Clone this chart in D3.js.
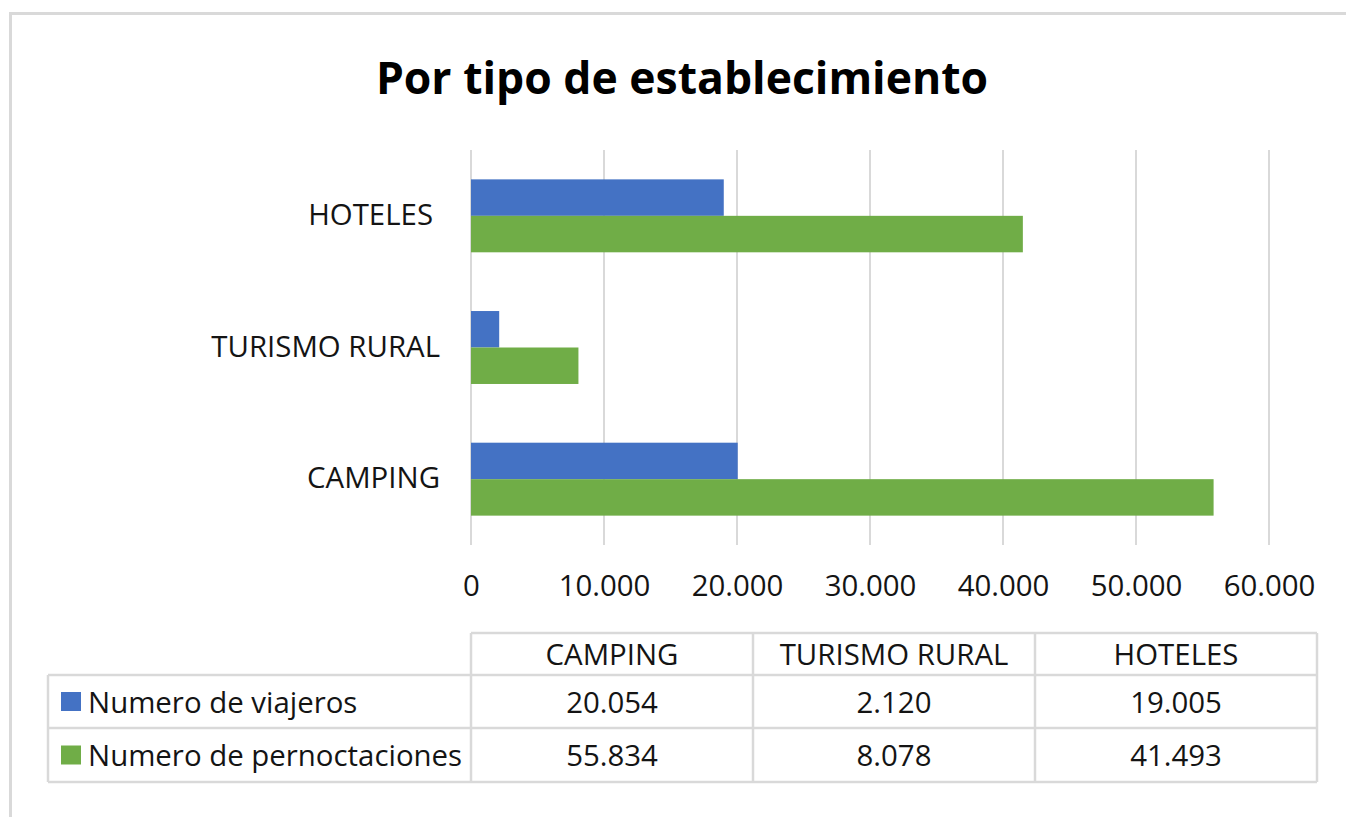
<!DOCTYPE html>
<html>
<head>
<meta charset="utf-8">
<script src="https://cdn.jsdelivr.net/npm/d3@7"></script>
<style>
  body { margin: 0; background: #fff; }
  text { font-family: "Open Sans", sans-serif; fill: #141414; }
</style>
</head>
<body>
<script>
// chart data
const categories = ["HOTELES", "TURISMO RURAL", "CAMPING"];
const tableOrder = ["CAMPING", "TURISMO RURAL", "HOTELES"];
const seriesNames = ["Numero de viajeros", "Numero de pernoctaciones"];
const viajeros = { "CAMPING": 20054, "TURISMO RURAL": 2120, "HOTELES": 19005 };
const pernoctaciones = { "CAMPING": 55834, "TURISMO RURAL": 8078, "HOTELES": 41493 };
const xTicks = [0, 10000, 20000, 30000, 40000, 50000, 60000];

const colors = ["#4472C4", "#70AD47"];
const gridColor = "#d9d9d9";
const seriesValues = [viajeros, pernoctaciones];
const fs = "29.4px";

const es = d3.formatLocale({ decimal: ",", thousands: ".", grouping: [3], currency: ["", "€"] });
const fmt = es.format(",d");

const W = 1346, H = 817;
const svg = d3.select("body").append("svg").attr("width", W).attr("height", H);

// outer chart border (cut off right and bottom)
svg.append("rect")
  .attr("x", 10.5).attr("y", 13.5)
  .attr("width", 1400).attr("height", 900)
  .attr("fill", "none").attr("stroke", gridColor).attr("stroke-width", 3);

// title
svg.append("text")
  .attr("x", 682).attr("y", 76)
  .attr("text-anchor", "middle").attr("dominant-baseline", "central")
  .style("font-weight", "bold").style("font-size", "44.5px").style("fill", "#000")
  .text("Por tipo de establecimiento");

const x = d3.scaleLinear().domain([0, 60000]).range([471, 1269]);
const y = d3.scaleBand().domain(categories).range([150, 545]).paddingInner(0.446).paddingOuter(0.223);
const ySub = d3.scaleBand().domain(d3.range(seriesNames.length)).range([0, y.bandwidth()]);

// gridlines
svg.append("g").selectAll("line")
  .data(xTicks).join("line")
  .attr("x1", d => x(d)).attr("x2", d => x(d))
  .attr("y1", 150).attr("y2", 545)
  .attr("stroke", gridColor).attr("stroke-width", 2);

// bars
seriesValues.forEach((vals, i) => {
  svg.append("g").selectAll("rect")
    .data(categories).join("rect")
    .attr("x", x(0))
    .attr("y", c => y(c) + ySub(i))
    .attr("width", c => x(vals[c]) - x(0))
    .attr("height", ySub.bandwidth())
    .attr("fill", colors[i]);
});

// category labels
svg.append("g").selectAll("text")
  .data(categories).join("text")
  .attr("x", c => c === "HOTELES" ? 433 : 440)
  .attr("y", c => y(c) + y.bandwidth() / 2 - 2)
  .attr("text-anchor", "end").attr("dominant-baseline", "central")
  .style("font-size", fs)
  .text(c => c);

// x tick labels
const xAxis = d3.axisBottom(x).tickValues(xTicks).tickFormat(fmt).tickSize(0).tickPadding(0);
const gx = svg.append("g").attr("transform", "translate(0,573)").call(xAxis);
gx.select(".domain").remove();
gx.selectAll("text").style("font-size", fs).attr("dy", null).attr("y", 12)
  .attr("dominant-baseline", "central").attr("fill", null);

// data table
const colX = d3.scaleBand().domain(tableOrder).range([471, 1317]);
const rowTop = [633, 675, 728, 782];
const tbl = svg.append("g").attr("stroke", gridColor).attr("stroke-width", 2.5);

// horizontal lines
tbl.append("line").attr("x1", 471).attr("x2", 1317).attr("y1", rowTop[0]).attr("y2", rowTop[0]);
rowTop.slice(1).forEach(yy => {
  tbl.append("line").attr("x1", 48).attr("x2", 1317).attr("y1", yy).attr("y2", yy);
});
// vertical lines
tbl.append("line").attr("x1", 48).attr("x2", 48).attr("y1", rowTop[1]).attr("y2", rowTop[3]);
tableOrder.forEach(c => {
  tbl.append("line").attr("x1", colX(c)).attr("x2", colX(c)).attr("y1", rowTop[0]).attr("y2", rowTop[3]);
});
tbl.append("line").attr("x1", 1317).attr("x2", 1317).attr("y1", rowTop[0]).attr("y2", rowTop[3]);

// header texts
svg.append("g").selectAll("text")
  .data(tableOrder).join("text")
  .attr("x", c => colX(c) + colX.bandwidth() / 2)
  .attr("y", (rowTop[0] + rowTop[1]) / 2)
  .attr("text-anchor", "middle").attr("dominant-baseline", "central")
  .style("font-size", fs)
  .text(c => c);

// series rows
seriesNames.forEach((name, i) => {
  const yc = (rowTop[i + 1] + rowTop[i + 2]) / 2;
  svg.append("rect")
    .attr("x", 61).attr("y", yc - 9.5)
    .attr("width", 20).attr("height", 19)
    .attr("fill", colors[i]);
  svg.append("text")
    .attr("x", 88).attr("y", yc)
    .attr("dominant-baseline", "central")
    .style("font-size", fs)
    .text(name);
  svg.append("g").selectAll("text")
    .data(tableOrder).join("text")
    .attr("x", c => colX(c) + colX.bandwidth() / 2)
    .attr("y", yc)
    .attr("text-anchor", "middle").attr("dominant-baseline", "central")
    .style("font-size", fs)
    .text(c => fmt(seriesValues[i][c]));
});
</script>
</body>
</html>
